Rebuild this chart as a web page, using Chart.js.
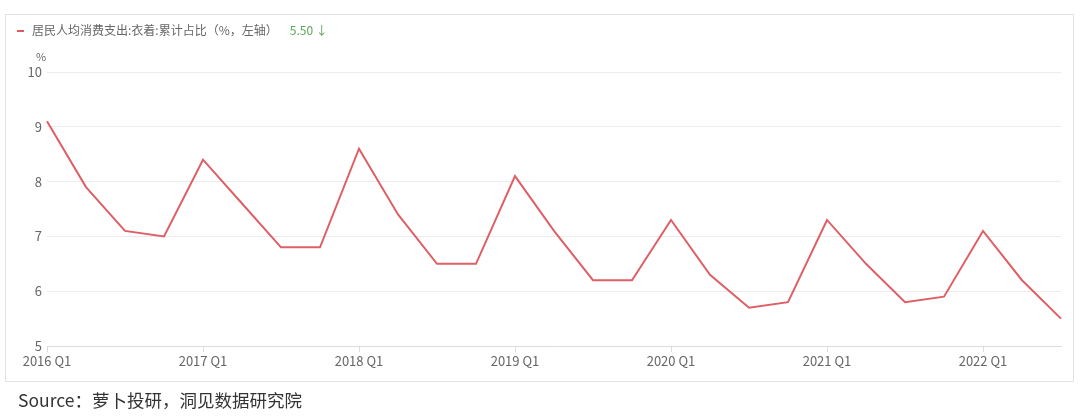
<!DOCTYPE html>
<html>
<head>
<meta charset="utf-8">
<script src="https://cdn.jsdelivr.net/npm/chart.js@4.4.1/dist/chart.umd.min.js"></script>
<style>
  html, body { margin: 0; padding: 0; background: #fff; }
  body { width: 1080px; height: 418px; position: relative; overflow: hidden;
         font-family: "Noto Sans CJK SC", "Noto Sans", sans-serif; }
  #frame { position: absolute; left: 5px; top: 14px; width: 1069px; height: 368px;
           border: 1px solid #e3e3e3; box-sizing: border-box; }
  #wrap { position: absolute; left: 0; top: 0; width: 1080px; height: 418px; }
  #legend { position: absolute; left: 17px; top: 21px; font-size: 12px; color: #666;
            white-space: nowrap; line-height: 18px; }
  #legend .mark { display: inline-block; width: 7px; height: 2px; background: #dc5a60;
                  vertical-align: middle; margin-right: 8px; position: relative; top: -1px; }
  #legend .val { color: #5aa75a; margin-left: 12px; }
  #unit { position: absolute; left: 36px; top: 48px; font-size: 11px; color: #666; }
  #source { position: absolute; left: 18px; top: 387px; font-size: 17.5px; color: #333; white-space: nowrap; }
</style>
</head>
<body>
<div id="frame"></div>
<div id="wrap"><canvas id="chart" width="1080" height="418"></canvas></div>
<div id="legend"><span class="mark"></span>居民人均消费支出:衣着:累计占比（%，左轴）<span class="val">5.50 ↓</span></div>
<div id="unit">%</div>
<div id="source">Source：萝卜投研，洞见数据研究院</div>
<script>
const years = ['2016', '2017', '2018', '2019', '2020', '2021', '2022'];
const quarters = ['Q1', 'Q2', 'Q3', 'Q4'];

// 衣着累计占比 (%), 2016 Q1 - 2022 Q3
const clothingShare = [
    9.1, 7.9, 7.1, 7.0,
    8.4, 7.6, 6.8, 6.8,
    8.6, 7.4, 6.5, 6.5,
    8.1, 7.1, 6.2, 6.2,
    7.3, 6.3, 5.7, 5.8,
    7.3, 6.5, 5.8, 5.9,
    7.1, 6.2, 5.5
];

const labels = [];
years.forEach(function (y) {
    quarters.forEach(function (q) { labels.push(y + ' ' + q); });
});
labels.length = clothingShare.length;

const tickFont = { family: '"Noto Sans CJK SC", "Noto Sans", sans-serif', size: 13 };

const ctx = document.getElementById('chart').getContext('2d');
new Chart(ctx, {
    type: 'line',
    data: {
        labels: labels,
        datasets: [{
            label: '居民人均消费支出:衣着:累计占比（%，左轴）',
            data: clothingShare,
            borderColor: '#de5f65',
            borderWidth: 2,
            pointRadius: 0,
            tension: 0,
            fill: false
        }]
    },
    options: {
        responsive: false,
        animation: false,
        layout: { padding: { left: 0, top: 72, right: 19, bottom: 0 } },
        plugins: { legend: { display: false }, tooltip: { enabled: false } },
        scales: {
            x: {
                offset: false,
                afterFit: function (s) { s.height = 72; },
                grid: {
                    drawOnChartArea: false,
                    tickLength: 6,
                    color: function (c) {
                        return (c.tick && String(labels[c.index]).endsWith('Q1')) ? '#dcdcdc' : 'rgba(0,0,0,0)';
                    }
                },
                border: { color: '#dcdcdc' },
                ticks: {
                    autoSkip: false,
                    maxRotation: 0,
                    color: '#666',
                    font: tickFont,
                    padding: 1,
                    callback: function (v, i) {
                        return labels[i].endsWith('Q1') ? labels[i] : '';
                    }
                }
            },
            y: {
                min: 5,
                max: 10,
                afterFit: function (s) { s.width = 47; },
                grid: { color: '#ececec', drawTicks: false },
                border: { display: false },
                ticks: { stepSize: 1, color: '#666', font: tickFont, padding: 5 }
            }
        }
    }
});
</script>
</body>
</html>
